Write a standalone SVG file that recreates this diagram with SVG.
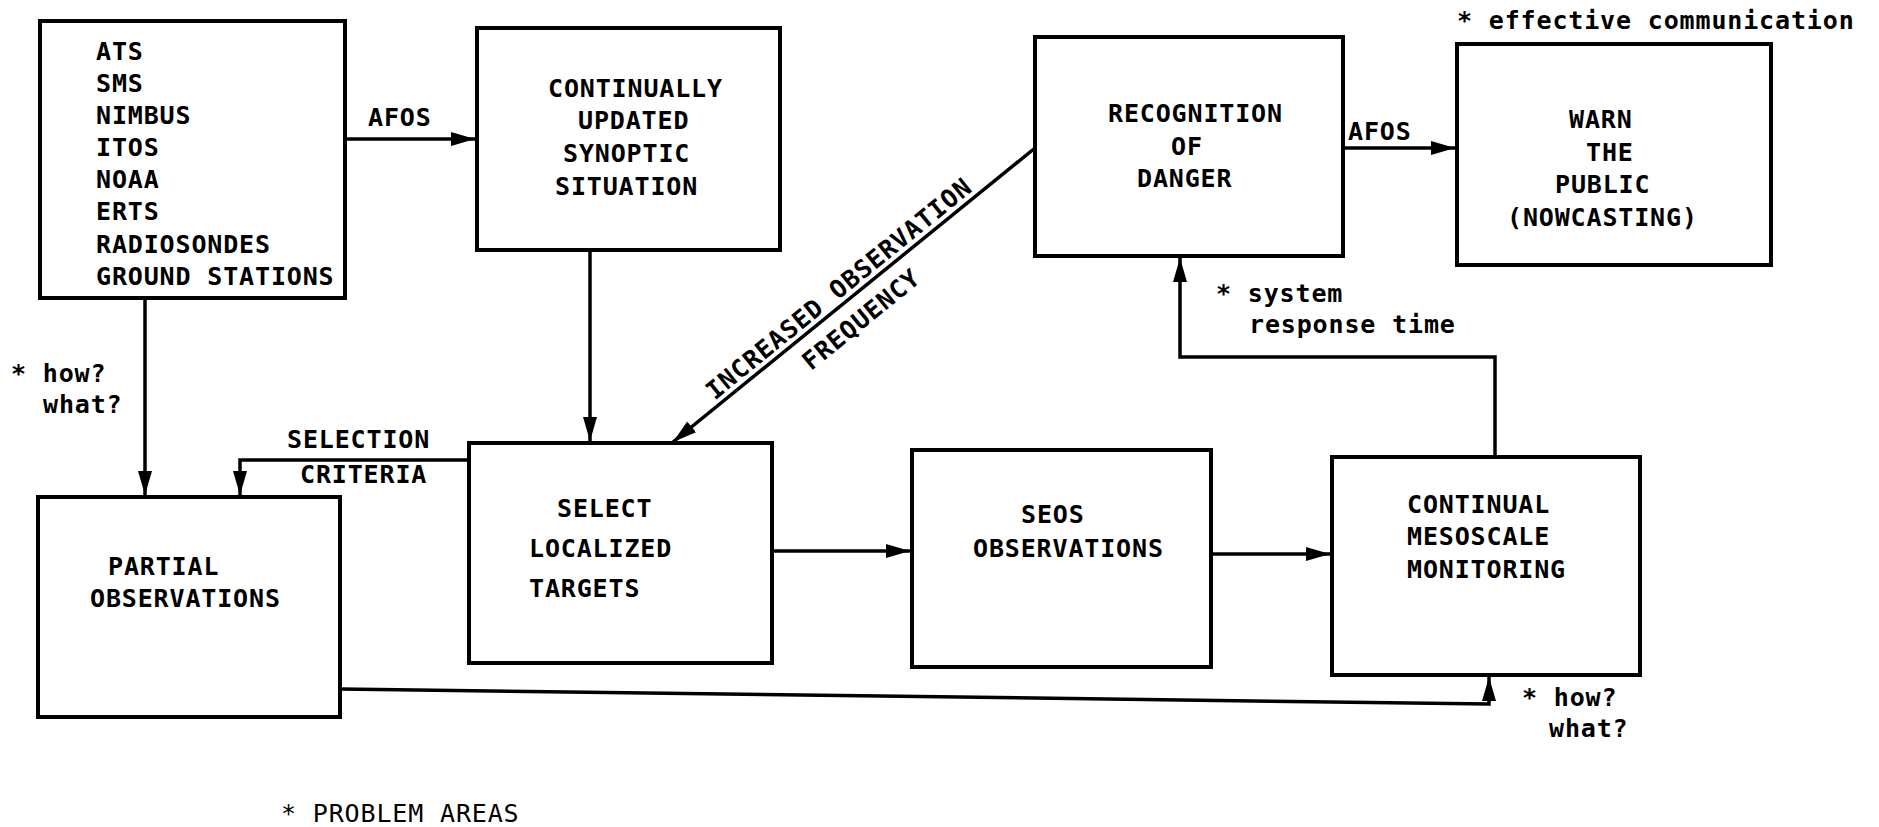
<svg xmlns="http://www.w3.org/2000/svg" width="1879" height="827" viewBox="0 0 1879 827">
  <style>
    .box { fill: #fff; stroke: #000; stroke-width: 4; }
    .t { font-family: "DejaVu Sans Mono", "Liberation Mono", monospace; font-weight: bold; font-size: 25px; letter-spacing: 0.85px; fill: #000; }
    .c { fill: none; stroke: #000; stroke-width: 3.5; }
  </style>
  <defs>
    <marker id="ah" markerUnits="userSpaceOnUse" markerWidth="26" markerHeight="16" refX="24" refY="8" orient="auto">
      <path d="M0,1 L24,8 L0,15 Z" fill="#000"/>
    </marker>
  </defs>
  <rect width="1879" height="827" fill="#fff"/>

  <g id="connectors">
    <line class="c" x1="345" y1="139" x2="475" y2="139" marker-end="url(#ah)"/>
    <line class="c" x1="145" y1="298" x2="145" y2="495" marker-end="url(#ah)"/>
    <line class="c" x1="590" y1="250" x2="590" y2="441" marker-end="url(#ah)"/>
    <line class="c" x1="1035" y1="148" x2="673" y2="442" marker-end="url(#ah)"/>
    <polyline class="c" points="469,460 240,460 240,495" marker-end="url(#ah)"/>
    <line class="c" x1="772" y1="551" x2="910" y2="551" marker-end="url(#ah)"/>
    <line class="c" x1="1211" y1="554" x2="1330" y2="554" marker-end="url(#ah)"/>
    <polyline class="c" points="1495,457 1495,357 1180,357 1180,258" marker-end="url(#ah)"/>
    <line class="c" x1="1343" y1="148" x2="1455" y2="148" marker-end="url(#ah)"/>
    <polyline class="c" points="340,689 1489,704 1489,677" marker-end="url(#ah)"/>
  </g>

  <g id="labels">
    <text class="t" x="368" y="126">AFOS</text>
    <text class="t" x="1348" y="140">AFOS</text>
    <text class="t" x="287" y="448">SELECTION</text>
    <text class="t" x="300" y="483">CRITERIA</text>
    <g transform="translate(848,300) rotate(-39.1)">
      <text class="t" x="0" y="-6" text-anchor="middle">INCREASED OBSERVATION</text>
      <text class="t" x="-2" y="32" text-anchor="middle">FREQUENCY</text>
    </g>
    <text class="t" x="1457" y="29">* effective communication</text>
    <text class="t" x="1216" y="302">* system</text>
    <text class="t" x="1249" y="333">response time</text>
    <text class="t" x="11" y="382">* how?</text>
    <text class="t" x="43" y="413">what?</text>
    <text class="t" x="1522" y="706">* how?</text>
    <text class="t" x="1549" y="737">what?</text>
    <text class="t" x="281" y="822" style="font-weight:normal">* PROBLEM AREAS</text>
  </g>

  <g id="sources">
    <rect class="box" x="40" y="21" width="305" height="277"/>
    <text class="t" x="96" y="60">ATS</text>
    <text class="t" x="96" y="92">SMS</text>
    <text class="t" x="96" y="124">NIMBUS</text>
    <text class="t" x="96" y="156">ITOS</text>
    <text class="t" x="96" y="188">NOAA</text>
    <text class="t" x="96" y="220">ERTS</text>
    <text class="t" x="96" y="253">RADIOSONDES</text>
    <text class="t" x="96" y="285">GROUND STATIONS</text>
  </g>

  <g id="synoptic">
    <rect class="box" x="477" y="28" width="303" height="222"/>
    <text class="t" x="548" y="97">CONTINUALLY</text>
    <text class="t" x="578" y="129">UPDATED</text>
    <text class="t" x="563" y="162">SYNOPTIC</text>
    <text class="t" x="555" y="195">SITUATION</text>
  </g>

  <g id="recognition">
    <rect class="box" x="1035" y="37" width="308" height="219"/>
    <text class="t" x="1108" y="122">RECOGNITION</text>
    <text class="t" x="1171" y="155">OF</text>
    <text class="t" x="1137" y="187">DANGER</text>
  </g>

  <g id="warn">
    <rect class="box" x="1457" y="44" width="314" height="221"/>
    <text class="t" x="1569" y="128">WARN</text>
    <text class="t" x="1586" y="161">THE</text>
    <text class="t" x="1555" y="193">PUBLIC</text>
    <text class="t" x="1507" y="226">(NOWCASTING)</text>
  </g>

  <g id="partial">
    <rect class="box" x="38" y="497" width="302" height="220"/>
    <text class="t" x="108" y="575">PARTIAL</text>
    <text class="t" x="90" y="607">OBSERVATIONS</text>
  </g>

  <g id="select">
    <rect class="box" x="469" y="443" width="303" height="220"/>
    <text class="t" x="557" y="517">SELECT</text>
    <text class="t" x="529" y="557">LOCALIZED</text>
    <text class="t" x="529" y="597">TARGETS</text>
  </g>

  <g id="seos">
    <rect class="box" x="912" y="450" width="299" height="217"/>
    <text class="t" x="1021" y="523">SEOS</text>
    <text class="t" x="973" y="557">OBSERVATIONS</text>
  </g>

  <g id="monitoring">
    <rect class="box" x="1332" y="457" width="308" height="218"/>
    <text class="t" x="1407" y="513">CONTINUAL</text>
    <text class="t" x="1407" y="545">MESOSCALE</text>
    <text class="t" x="1407" y="578">MONITORING</text>
  </g>
</svg>
